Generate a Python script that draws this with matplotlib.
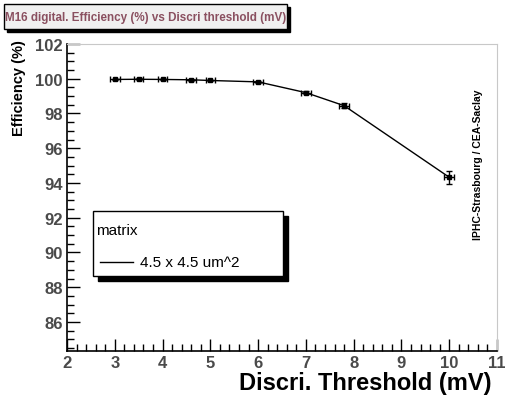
import numpy as np
from matplotlib import pyplot as plt
from matplotlib.patches import Rectangle
from matplotlib.ticker import MultipleLocator

plt.rcParams['font.family'] = ['Liberation Sans', 'DejaVu Sans']

threshold = [3.0, 3.5, 4.0, 4.6, 5.0, 6.0, 7.0, 7.8, 10.0]
efficiency = [99.96, 99.97, 99.96, 99.94, 99.90, 99.82, 99.20, 98.45, 94.33]
eff_err = [0.05, 0.05, 0.05, 0.05, 0.05, 0.06, 0.10, 0.15, 0.38]
thr_err = [0.1] * len(threshold)

W, H = 506, 410
fig = plt.figure(figsize=(W / 100, H / 100), dpi=100)

x0, x1, y0, y1 = 67, 497, 45, 352
ax = fig.add_axes([x0 / W, 1 - y1 / H, (x1 - x0) / W, (y1 - y0) / H])

ax.errorbar(threshold, efficiency, xerr=thr_err, yerr=eff_err, color='black',
            marker='s', ms=3.5, lw=1, elinewidth=1, capsize=2, capthick=1)

ax.set_xlim(2, 11)
ax.set_ylim(84.33, 102)
ax.xaxis.set_major_locator(MultipleLocator(1))
ax.xaxis.set_minor_locator(MultipleLocator(0.2))
ax.yaxis.set_minor_locator(MultipleLocator(0.5))
ax.set_yticks([86, 88, 90, 92, 94, 96, 98, 100, 102])
ax.tick_params(which='both', direction='in', top=False, right=False, width=1)
ax.tick_params(which='major', length=9, labelsize=12, labelcolor='#4a4a4a', pad=3)
ax.tick_params(which='minor', length=5)
for lab in ax.get_xticklabels() + ax.get_yticklabels():
    lab.set_fontweight('bold')
ax.spines['top'].set_color('#c8c8c8')
ax.spines['right'].set_color('#c8c8c8')
ax.spines['left'].set_linewidth(1.2)
ax.spines['bottom'].set_linewidth(1.2)

fig.text(492 / W, 1 - 384 / H, 'Discri. Threshold (mV)', ha='right', va='center',
         fontsize=17, fontweight='bold')
fig.text(19 / W, 1 - 40 / H, 'Efficiency (%)', ha='center', va='top',
         rotation=90, fontsize=10.5, fontweight='bold')
fig.text(478 / W, 1 - 165 / H, 'IPHC-Strasbourg / CEA-Saclay', ha='center',
         va='center', rotation=90, fontsize=7.5, fontweight='bold')


def framed_box(left, top, right, bottom, face, shadow=4):
    fig.patches.append(Rectangle(((left + shadow) / W, 1 - (bottom + shadow) / H),
                                 (right - left) / W, (bottom - top) / H,
                                 transform=fig.transFigure, color='black', zorder=5))
    fig.patches.append(Rectangle((left / W, 1 - bottom / H), (right - left) / W,
                                 (bottom - top) / H, transform=fig.transFigure,
                                 facecolor=face, edgecolor='black', lw=1, zorder=6))


# title box
framed_box(4, 5, 287, 30, '#f0f0f0', shadow=3)
fig.text(146 / W, 1 - 17.5 / H, 'M16 digital. Efficiency (%) vs Discri threshold (mV)',
         ha='center', va='center', fontsize=8.4, fontweight='bold', color='#8a5060',
         zorder=7)

# legend box
framed_box(93, 212, 283, 277, 'white', shadow=5)
fig.text(96 / W, 1 - 231 / H, 'matrix', ha='left', va='center', fontsize=11, zorder=7)
fig.lines.append(plt.Line2D([100 / W, 133 / W], [1 - 263 / H, 1 - 263 / H],
                            transform=fig.transFigure, color='black', lw=1, zorder=7))
fig.text(140 / W, 1 - 263 / H, '4.5 x 4.5 um^2', ha='left', va='center',
         fontsize=11, zorder=7)

fig.savefig('out.png', dpi=100)
